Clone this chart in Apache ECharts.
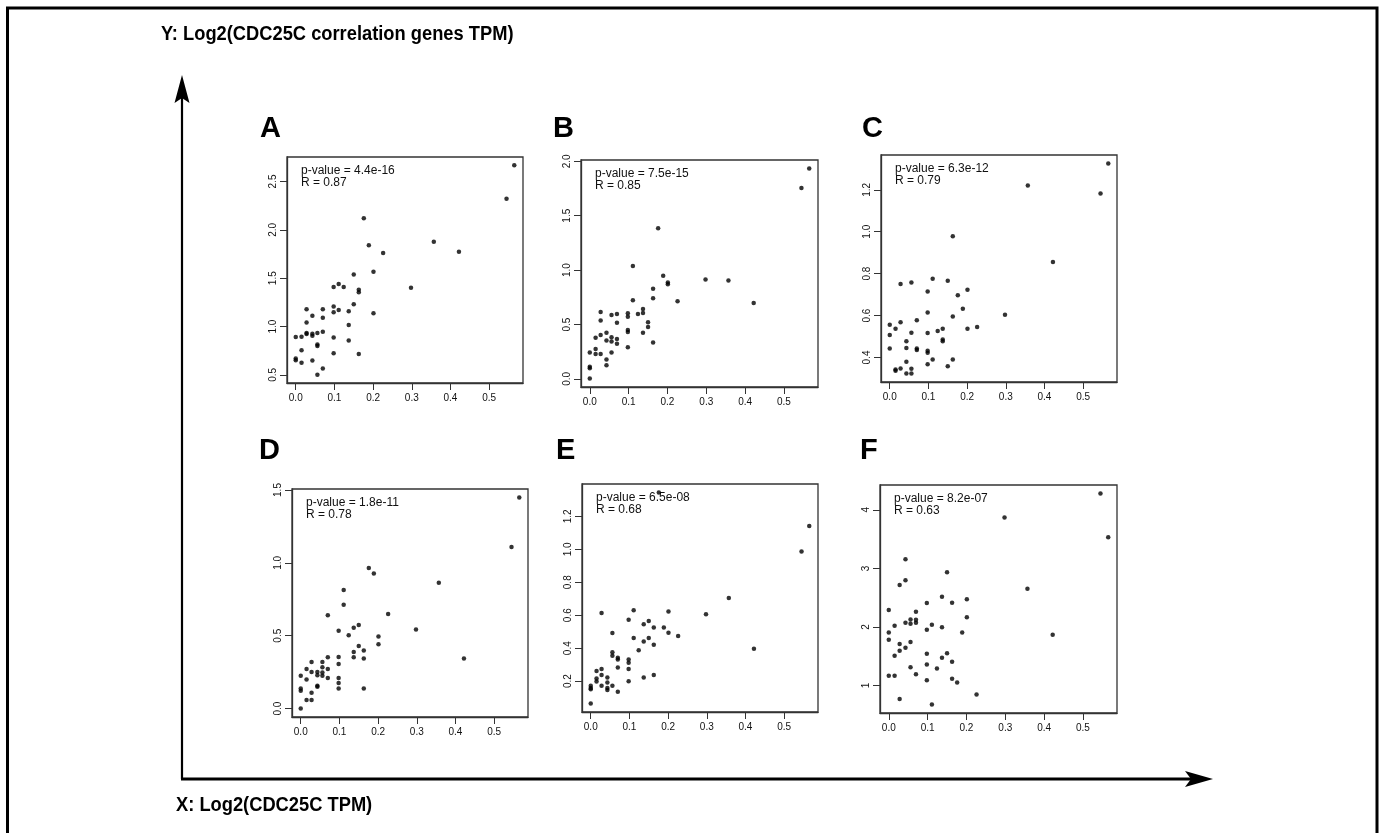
<!DOCTYPE html>
<html>
<head>
<meta charset="utf-8">
<title>CDC25C correlation</title>
<script src="https://cdn.jsdelivr.net/npm/echarts@6/dist/echarts.min.js"></script>
<style>
  html, body { margin: 0; padding: 0; background: #fff; }
  #chart { width: 1383px; height: 833px; }
</style>
</head>
<body>
<div id="chart"></div>
<script>
// 数据: x = Log2(CDC25C TPM), y = Log2(相关基因 TPM)
const panelA = [[0.565,2.666],[0.545,2.32],[0.176,2.12],[0.357,1.877],[0.189,1.84],[0.422,1.773],[0.226,1.76],[0.150,1.538],[0.201,1.566],[0.098,1.41],[0.111,1.44],[0.124,1.41],[0.298,1.40],[0.163,1.38],[0.163,1.355],[0.150,1.23],[0.028,1.178],[0.070,1.18],[0.098,1.206],[0.098,1.147],[0.111,1.171],[0.137,1.157],[0.201,1.137],[0.043,1.112],[0.070,1.092],[0.028,1.043],[0.137,1.015],[0.028,0.933],[0.028,0.922],[0.043,0.926],[0.043,0.905],[0.056,0.933],[0.070,0.946],[0,0.891],[0.015,0.894],[0.098,0.888],[0.137,0.856],[0.056,0.815],[0.056,0.798],[0.015,0.756],[0.098,0.725],[0.163,0.715],[0,0.67],[0,0.652],[0.043,0.649],[0.015,0.625],[0.070,0.566],[0.056,0.503]];
const panelB = [[0.565,1.935],[0.545,1.754],[0.176,1.385],[0.111,1.037],[0.189,0.948],[0.298,0.914],[0.357,0.905],[0.201,0.886],[0.201,0.871],[0.163,0.828],[0.163,0.742],[0.111,0.723],[0.226,0.714],[0.422,0.698],[0.137,0.643],[0.137,0.606],[0.098,0.603],[0.124,0.597],[0.028,0.615],[0.070,0.597],[0.056,0.588],[0.098,0.572],[0.028,0.538],[0.070,0.517],[0.150,0.52],[0.150,0.477],[0.098,0.449],[0.098,0.431],[0.137,0.425],[0.043,0.425],[0.028,0.403],[0.015,0.378],[0.056,0.382],[0.070,0.366],[0.043,0.354],[0.056,0.345],[0.070,0.323],[0.163,0.335],[0.015,0.274],[0,0.243],[0.015,0.228],[0.028,0.228],[0.056,0.243],[0.098,0.292],[0.043,0.178],[0.043,0.126],[0,0.111],[0,0.098],[0,0.003]];
const panelC = [[0.565,1.326],[0.357,1.221],[0.545,1.182],[0.163,0.978],[0.422,0.855],[0.111,0.775],[0.150,0.766],[0.056,0.758],[0.028,0.75],[0.098,0.715],[0.201,0.723],[0.176,0.697],[0.189,0.633],[0.098,0.614],[0.298,0.604],[0.163,0.595],[0.070,0.577],[0.028,0.568],[0,0.556],[0.015,0.537],[0.137,0.537],[0.226,0.545],[0.201,0.537],[0.124,0.526],[0.056,0.518],[0.098,0.517],[0,0.507],[0.137,0.486],[0.137,0.477],[0.043,0.477],[0,0.443],[0.043,0.445],[0.070,0.443],[0.070,0.435],[0.098,0.432],[0.098,0.422],[0.043,0.379],[0.111,0.39],[0.163,0.39],[0.098,0.368],[0.150,0.358],[0.015,0.342],[0.015,0.336],[0.028,0.347],[0.056,0.346],[0.043,0.323],[0.056,0.323]];
const panelD = [[0.565,1.449],[0.545,1.109],[0.176,0.964],[0.189,0.927],[0.357,0.863],[0.111,0.814],[0.111,0.713],[0.070,0.64],[0.226,0.649],[0.098,0.534],[0.298,0.543],[0.150,0.573],[0.137,0.554],[0.124,0.504],[0.201,0.495],[0.201,0.442],[0.150,0.43],[0.137,0.389],[0.137,0.352],[0.163,0.398],[0.163,0.343],[0.422,0.343],[0.070,0.352],[0.098,0.354],[0.098,0.306],[0.028,0.32],[0.056,0.32],[0.015,0.271],[0.056,0.283],[0.070,0.271],[0.028,0.251],[0.043,0.251],[0.056,0.248],[0,0.225],[0.043,0.228],[0.056,0.225],[0.070,0.209],[0.098,0.209],[0.015,0.2],[0.043,0.156],[0.043,0.15],[0.098,0.175],[0.098,0.138],[0,0.138],[0,0.122],[0.163,0.138],[0.028,0.108],[0.015,0.058],[0.028,0.058],[0,0]];
const panelE = [[0.565,1.141],[0.545,0.987],[0.176,1.345],[0.357,0.705],[0.111,0.63],[0.201,0.622],[0.028,0.614],[0.298,0.606],[0.098,0.573],[0.150,0.565],[0.137,0.545],[0.189,0.525],[0.163,0.525],[0.056,0.492],[0.201,0.494],[0.226,0.474],[0.111,0.462],[0.150,0.462],[0.137,0.441],[0.163,0.421],[0.124,0.387],[0.422,0.397],[0.056,0.376],[0.056,0.354],[0.070,0.342],[0.070,0.332],[0.098,0.332],[0.098,0.312],[0.070,0.283],[0.028,0.273],[0.098,0.273],[0.015,0.261],[0.137,0.222],[0.163,0.237],[0.028,0.237],[0.043,0.222],[0.015,0.216],[0.015,0.198],[0.098,0.2],[0.043,0.192],[0.028,0.172],[0.056,0.172],[0,0.172],[0,0.159],[0,0.151],[0.043,0.159],[0.043,0.147],[0.070,0.135],[0,0.064]];
const panelF = [[0.545,4.28],[0.565,3.533],[0.298,3.869],[0.043,3.156],[0.150,2.934],[0.043,2.797],[0.028,2.717],[0.357,2.654],[0.137,2.517],[0.201,2.472],[0.098,2.409],[0.163,2.415],[0,2.289],[0.070,2.261],[0.201,2.164],[0.056,2.129],[0.070,2.124],[0.070,2.072],[0.043,2.072],[0.056,2.055],[0.015,2.021],[0.111,2.038],[0.137,1.993],[0.098,1.953],[0,1.907],[0.189,1.907],[0.422,1.867],[0,1.781],[0.056,1.742],[0.028,1.707],[0.043,1.645],[0.028,1.593],[0.098,1.542],[0.150,1.553],[0.015,1.508],[0.137,1.473],[0.163,1.405],[0.098,1.359],[0.056,1.314],[0.124,1.291],[0.070,1.194],[0,1.165],[0.015,1.165],[0.163,1.114],[0.098,1.091],[0.176,1.051],[0.226,0.846],[0.028,0.772],[0.111,0.675]];

const panelLetters = ['A', 'B', 'C', 'D', 'E', 'F'];
const pValues = ['4.4e-16', '7.5e-15', '6.3e-12', '1.8e-11', '6.5e-08', '8.2e-07'];
const rValues = ['0.87', '0.85', '0.79', '0.78', '0.68', '0.63'];
const xTicks = [0, 0.1, 0.2, 0.3, 0.4, 0.5];
const yTicksA = [0.5, 1.0, 1.5, 2.0, 2.5];
const yTicksB = [0.0, 0.5, 1.0, 1.5, 2.0];
const yTicksC = [0.4, 0.6, 0.8, 1.0, 1.2];
const yTicksD = [0.0, 0.5, 1.0, 1.5];
const yTicksE = [0.2, 0.4, 0.6, 0.8, 1.0, 1.2];
const yTicksF = [1, 2, 3, 4];

const panels = [panelA, panelB, panelC, panelD, panelE, panelF];
const yTicks = [yTicksA, yTicksB, yTicksC, yTicksD, yTicksE, yTicksF];
const yDigits = [1, 1, 1, 1, 1, 0];

// 每个小图的绘图框 [left, top, width, height]
const boxes = [
  [287, 157, 236, 226],
  [581, 160, 237, 227],
  [881, 155, 236, 227],
  [292, 489, 236, 228],
  [582, 484, 236, 228],
  [880, 485, 237, 228]
];
const letterPos = [[260, 129], [553, 129], [862, 129], [259, 451], [556, 451], [860, 451]];

// R 风格坐标范围: 数据范围两端各扩 4%
function padRange(pts, k) {
  let lo = Infinity, hi = -Infinity;
  pts.forEach(p => { lo = Math.min(lo, p[k]); hi = Math.max(hi, p[k]); });
  const d = (hi - lo) * 0.04;
  return [lo - d, hi + d];
}

const tickFont = "'Liberation Sans Narrow', 'Liberation Sans', Arial, sans-serif";
const grid = [], xAxis = [], yAxis = [], series = [], graphic = [];

panels.forEach((pts, i) => {
  const b = boxes[i];
  const xr = padRange(pts, 0);
  const yr = padRange(pts, 1);
  grid.push({
    left: b[0], top: b[1], width: b[2], height: b[3],
    show: true, borderColor: '#333', borderWidth: 1.3,
    backgroundColor: 'transparent',
    containLabel: false, outerBoundsMode: 'none'
  });
  xAxis.push({
    gridIndex: i, type: 'value', min: xr[0], max: xr[1],
    axisLine: { show: true, onZero: false, lineStyle: { color: '#333', width: 1.3 } },
    splitLine: { show: false },
    axisTick: { show: true, length: 7, customValues: xTicks, lineStyle: { color: '#333', width: 1 } },
    axisLabel: {
      customValues: xTicks, margin: 10, fontSize: 10, color: '#111', fontFamily: tickFont,
      formatter: v => v.toFixed(1)
    }
  });
  yAxis.push({
    gridIndex: i, type: 'value', min: yr[0], max: yr[1],
    axisLine: { show: true, onZero: false, lineStyle: { color: '#333', width: 1.3 } },
    splitLine: { show: false },
    axisTick: { show: true, length: 7, customValues: yTicks[i], lineStyle: { color: '#333', width: 1 } },
    axisLabel: {
      customValues: yTicks[i], rotate: 90, margin: 9, fontSize: 10, color: '#111', fontFamily: tickFont,
      formatter: v => v.toFixed(yDigits[i])
    }
  });
  series.push({
    type: 'scatter', xAxisIndex: i, yAxisIndex: i,
    data: pts, symbol: 'circle', symbolSize: 4.5,
    itemStyle: { color: '#000' },
    silent: true, animation: false
  });
  // 注释文字
  graphic.push({
    type: 'text', x: b[0] + 14, y: b[1] + 14,
    style: { text: 'p-value = ' + pValues[i], font: "12px 'Liberation Sans', Arial, sans-serif", fill: '#111', textVerticalAlign: 'middle' }
  });
  graphic.push({
    type: 'text', x: b[0] + 14, y: b[1] + 26,
    style: { text: 'R = ' + rValues[i], font: "12px 'Liberation Sans', Arial, sans-serif", fill: '#111', textVerticalAlign: 'middle' }
  });
  graphic.push({
    type: 'text', x: letterPos[i][0], y: letterPos[i][1],
    style: { text: panelLetters[i], font: "bold 29px 'Liberation Sans', Arial, sans-serif", fill: '#000', textVerticalAlign: 'middle' }
  });
});

// 外框与大坐标箭头
graphic.push(
  { type: 'rect', shape: { x: 7.5, y: 8, width: 1369.5, height: 900 }, style: { fill: 'none', stroke: '#000', lineWidth: 3 } },
  { type: 'line', shape: { x1: 182, y1: 779, x2: 182, y2: 92 }, style: { stroke: '#000', lineWidth: 2.2 } },
  { type: 'polygon', shape: { points: [[182, 75], [174.5, 103], [182, 98], [189.5, 103]] }, style: { fill: '#000' } },
  { type: 'line', shape: { x1: 181, y1: 779, x2: 1198, y2: 779 }, style: { stroke: '#000', lineWidth: 2.8 } },
  { type: 'polygon', shape: { points: [[1213, 779], [1185, 771], [1191, 779], [1185, 787]] }, style: { fill: '#000' } },
  {
    type: 'text', x: 161, y: 34, scaleX: 0.915,
    style: { text: 'Y: Log2(CDC25C correlation genes TPM)', font: "bold 20px 'Liberation Sans', Arial, sans-serif", fill: '#000', textVerticalAlign: 'middle' }
  },
  {
    type: 'text', x: 176, y: 805, scaleX: 0.915,
    style: { text: 'X: Log2(CDC25C TPM)', font: "bold 20px 'Liberation Sans', Arial, sans-serif", fill: '#000', textVerticalAlign: 'middle' }
  }
);

const myChart = echarts.init(document.getElementById('chart'));
const option = {
  backgroundColor: '#fff',
  animation: false,
  grid: grid,
  xAxis: xAxis,
  yAxis: yAxis,
  series: series,
  graphic: graphic
};
option && myChart.setOption(option);
</script>
</body>
</html>
